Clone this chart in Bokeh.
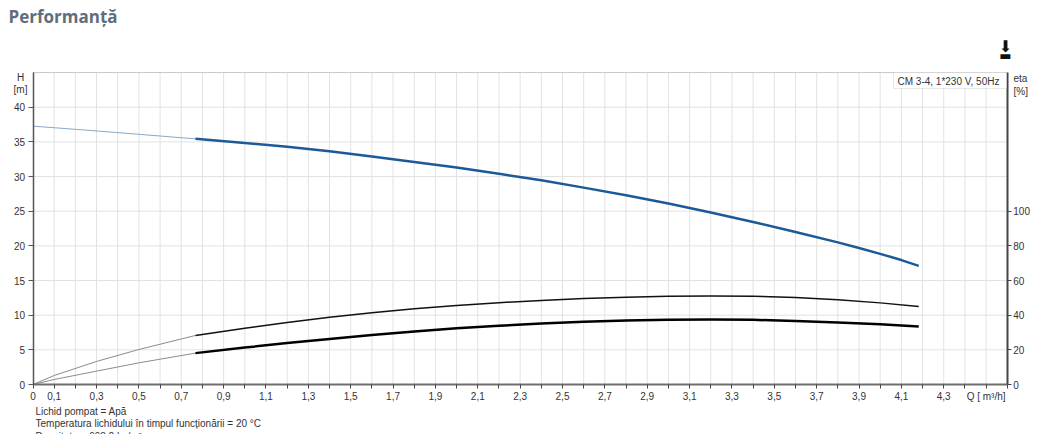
from bokeh.plotting import figure
from bokeh.models import Range1d, LinearAxis, FixedTicker, CustomJSTickFormatter, Label, BoxAnnotation
from bokeh.embed import file_html
from bokeh.resources import INLINE

# ---- data ----
q_head_ext = [0.0, 0.25, 0.5, 0.767]
head_ext = [37.27, 36.7, 36.09, 35.44]
q_head = [0.767, 1.0, 1.2, 1.4, 1.6, 1.8, 2.0, 2.2, 2.4, 2.6, 2.8, 3.0,
          3.2, 3.4, 3.6, 3.8, 3.9, 4.0, 4.1, 4.182]
head = [35.44, 34.85, 34.3, 33.65, 32.9, 32.1, 31.3, 30.4, 29.45, 28.4, 27.3, 26.1,
        24.8, 23.45, 22.0, 20.5, 19.7, 18.85, 17.95, 17.12]

q_eta_ext = [0.0, 0.1, 0.3, 0.5, 0.767]
eta_upper_ext = [0.0, 5.2, 13.3, 20.2, 28.3]
eta_lower_ext = [0.0, 2.9, 7.7, 12.5, 18.1]
q_eta = [0.767, 1.0, 1.2, 1.4, 1.6, 1.8, 2.0, 2.2, 2.4, 2.6, 2.8, 3.0,
         3.2, 3.4, 3.6, 3.8, 4.0, 4.182]
eta_upper = [28.3, 32.4, 35.8, 38.8, 41.4, 43.7, 45.6, 47.2, 48.5, 49.6, 50.4, 50.9,
             51.1, 50.9, 50.2, 48.9, 47.1, 45.0]
eta_lower = [18.1, 21.3, 23.9, 26.3, 28.5, 30.6, 32.4, 33.9, 35.2, 36.2, 37.0, 37.4,
             37.5, 37.3, 36.7, 35.8, 34.8, 33.5]

Q_MAX = 4.6
H_MAX = 45
ETA_MAX = 180
x_ticks = [round(i * 0.1, 1) for i in range(47)]
h_ticks = [0, 5, 10, 15, 20, 25, 30, 35, 40]
eta_ticks = [0, 20, 40, 60, 80, 100]

title_text = "Performanță"
legend_text = "CM 3-4, 1*230 V, 50Hz"
notes = ["Lichid pompat = Apă",
         "Temperatura lichidului în timpul funcționării = 20  °C",
         "Densitate = 998,2  kg/m³"]

# ---- layout (pixels) ----
W, H = 1048, 434
PX0, PY0 = 32.5, 384.0      # pixel position of Q=0, H=0
SX = 211.8                  # px per m3/h
SY = 6.932                  # px per m

FONT = "Liberation Sans"
TXT = "#333333"

p = figure(width=W, height=H,
           x_range=Range1d(-PX0 / SX, (W - PX0) / SX),
           y_range=Range1d(-(H - PY0) / SY, PY0 / SY),
           output_backend="svg", toolbar_location=None,
           x_axis_location=None, y_axis_location=None,
           min_border=0)
p.title = None
p.extra_y_ranges = {"eta": Range1d(-(H - PY0) / SY * 4, PY0 / SY * 4)}
p.outline_line_color = None
p.background_fill_color = "white"
p.border_fill_color = "white"
p.xgrid.visible = False
p.ygrid.visible = False

# grid lines inside the plot area
gx = x_ticks[1:-1]
p.segment(x0=gx, y0=[0] * len(gx), x1=gx, y1=[H_MAX] * len(gx),
          line_color="#e2e2e2", line_width=1)
gy = h_ticks[1:]
p.segment(x0=[0] * len(gy), y0=gy, x1=[Q_MAX] * len(gy), y1=gy,
          line_color="#e2e2e2", line_width=1)
p.segment(x0=[0], y0=[H_MAX], x1=[Q_MAX], y1=[H_MAX], line_color="#c8c8c8", line_width=1)

# curves
p.line(q_head_ext, head_ext, line_color="#8aa8c8", line_width=1)
p.line(q_head, head, line_color="#1c5a97", line_width=2.5, line_join="round")
p.line(q_eta_ext, eta_upper_ext, y_range_name="eta", line_color="#8c8c8c", line_width=1)
p.line(q_eta_ext, eta_lower_ext, y_range_name="eta", line_color="#8c8c8c", line_width=1)
p.line(q_eta, eta_upper, y_range_name="eta", line_color="#111111", line_width=1.5,
       line_join="round")
p.line(q_eta, eta_lower, y_range_name="eta", line_color="#000000", line_width=2.5,
       line_join="round")

def style_axis(a, color, width, tick_out, standoff):
    a.axis_line_color = color
    a.axis_line_width = width
    a.major_tick_line_color = color
    a.major_tick_out = tick_out
    a.major_tick_in = 0
    a.minor_tick_line_color = None
    a.major_label_standoff = standoff
    a.major_label_text_font = FONT
    a.major_label_text_font_size = "10px"
    a.major_label_text_color = TXT

# x axis
xa = LinearAxis(ticker=FixedTicker(ticks=x_ticks), fixed_location=0, bounds=(0, Q_MAX))
xa.formatter = CustomJSTickFormatter(code="""
const i = Math.round(tick * 10);
if (i == 0) return "0";
if (i == 45) return "Q [ m³/h]";
if (i % 2 == 1 && i <= 43) return (i / 10).toFixed(1).replace(".", ",");
return "";
""")
style_axis(xa, "#6e6e6e", 2, 4, 2)
xa.major_tick_line_color = "#444444"
p.add_layout(xa, "below")

# left axis
ya = LinearAxis(ticker=FixedTicker(ticks=h_ticks), fixed_location=0, bounds=(0, H_MAX))
style_axis(ya, "#555555", 1.5, 5, 3)
p.add_layout(ya, "left")

# right axis
ra = LinearAxis(y_range_name="eta", ticker=FixedTicker(ticks=eta_ticks),
                fixed_location=Q_MAX, bounds=(0, ETA_MAX))
style_axis(ra, "#444444", 2, 4, 2)
p.add_layout(ra, "right")

# texts (screen units: x from left, y from bottom of canvas)
def lab(text, x, y, **kw):
    d = dict(text_font=FONT, text_font_size="10px", text_color=TXT)
    d.update(kw)
    p.add_layout(Label(x=x, y=H - y, x_units="screen", y_units="screen", text=text, **d))

lab(title_text, 8, 16, text_font="Open Sans", text_font_style="bold",
    text_font_size="17px", text_color="#5f6e7d", text_baseline="alphabetic")
lab("H", 20, 77, text_align="center", text_baseline="middle")
lab("[m]", 20, 89, text_align="center", text_baseline="middle")
lab("eta", 1013, 78, text_align="left", text_baseline="middle")
lab("[%]", 1013, 91, text_align="left", text_baseline="middle")
for i, t in enumerate(notes):
    lab(t, 35, 410.7 + i * 12.7, text_align="left", text_baseline="middle")

# legend box
p.add_layout(BoxAnnotation(left=893, right=1006, top=H - 72, bottom=H - 88,
                           left_units="screen", right_units="screen",
                           top_units="screen", bottom_units="screen",
                           fill_color="white", fill_alpha=1.0,
                           line_color="#b0b0b0", line_width=1))
lab(legend_text, 897, 80.5, text_align="left", text_baseline="middle")

# download icon
lab("⬇", 1005, 46, text_font="DejaVu Sans", text_font_size="16px",
    text_color="#111111", text_align="center", text_baseline="middle")
lab("▬", 1005, 54.5, text_font="DejaVu Sans", text_font_size="13px",
    text_color="#111111", text_align="center", text_baseline="middle")

open("out.html", "w").write(file_html(p, INLINE))
